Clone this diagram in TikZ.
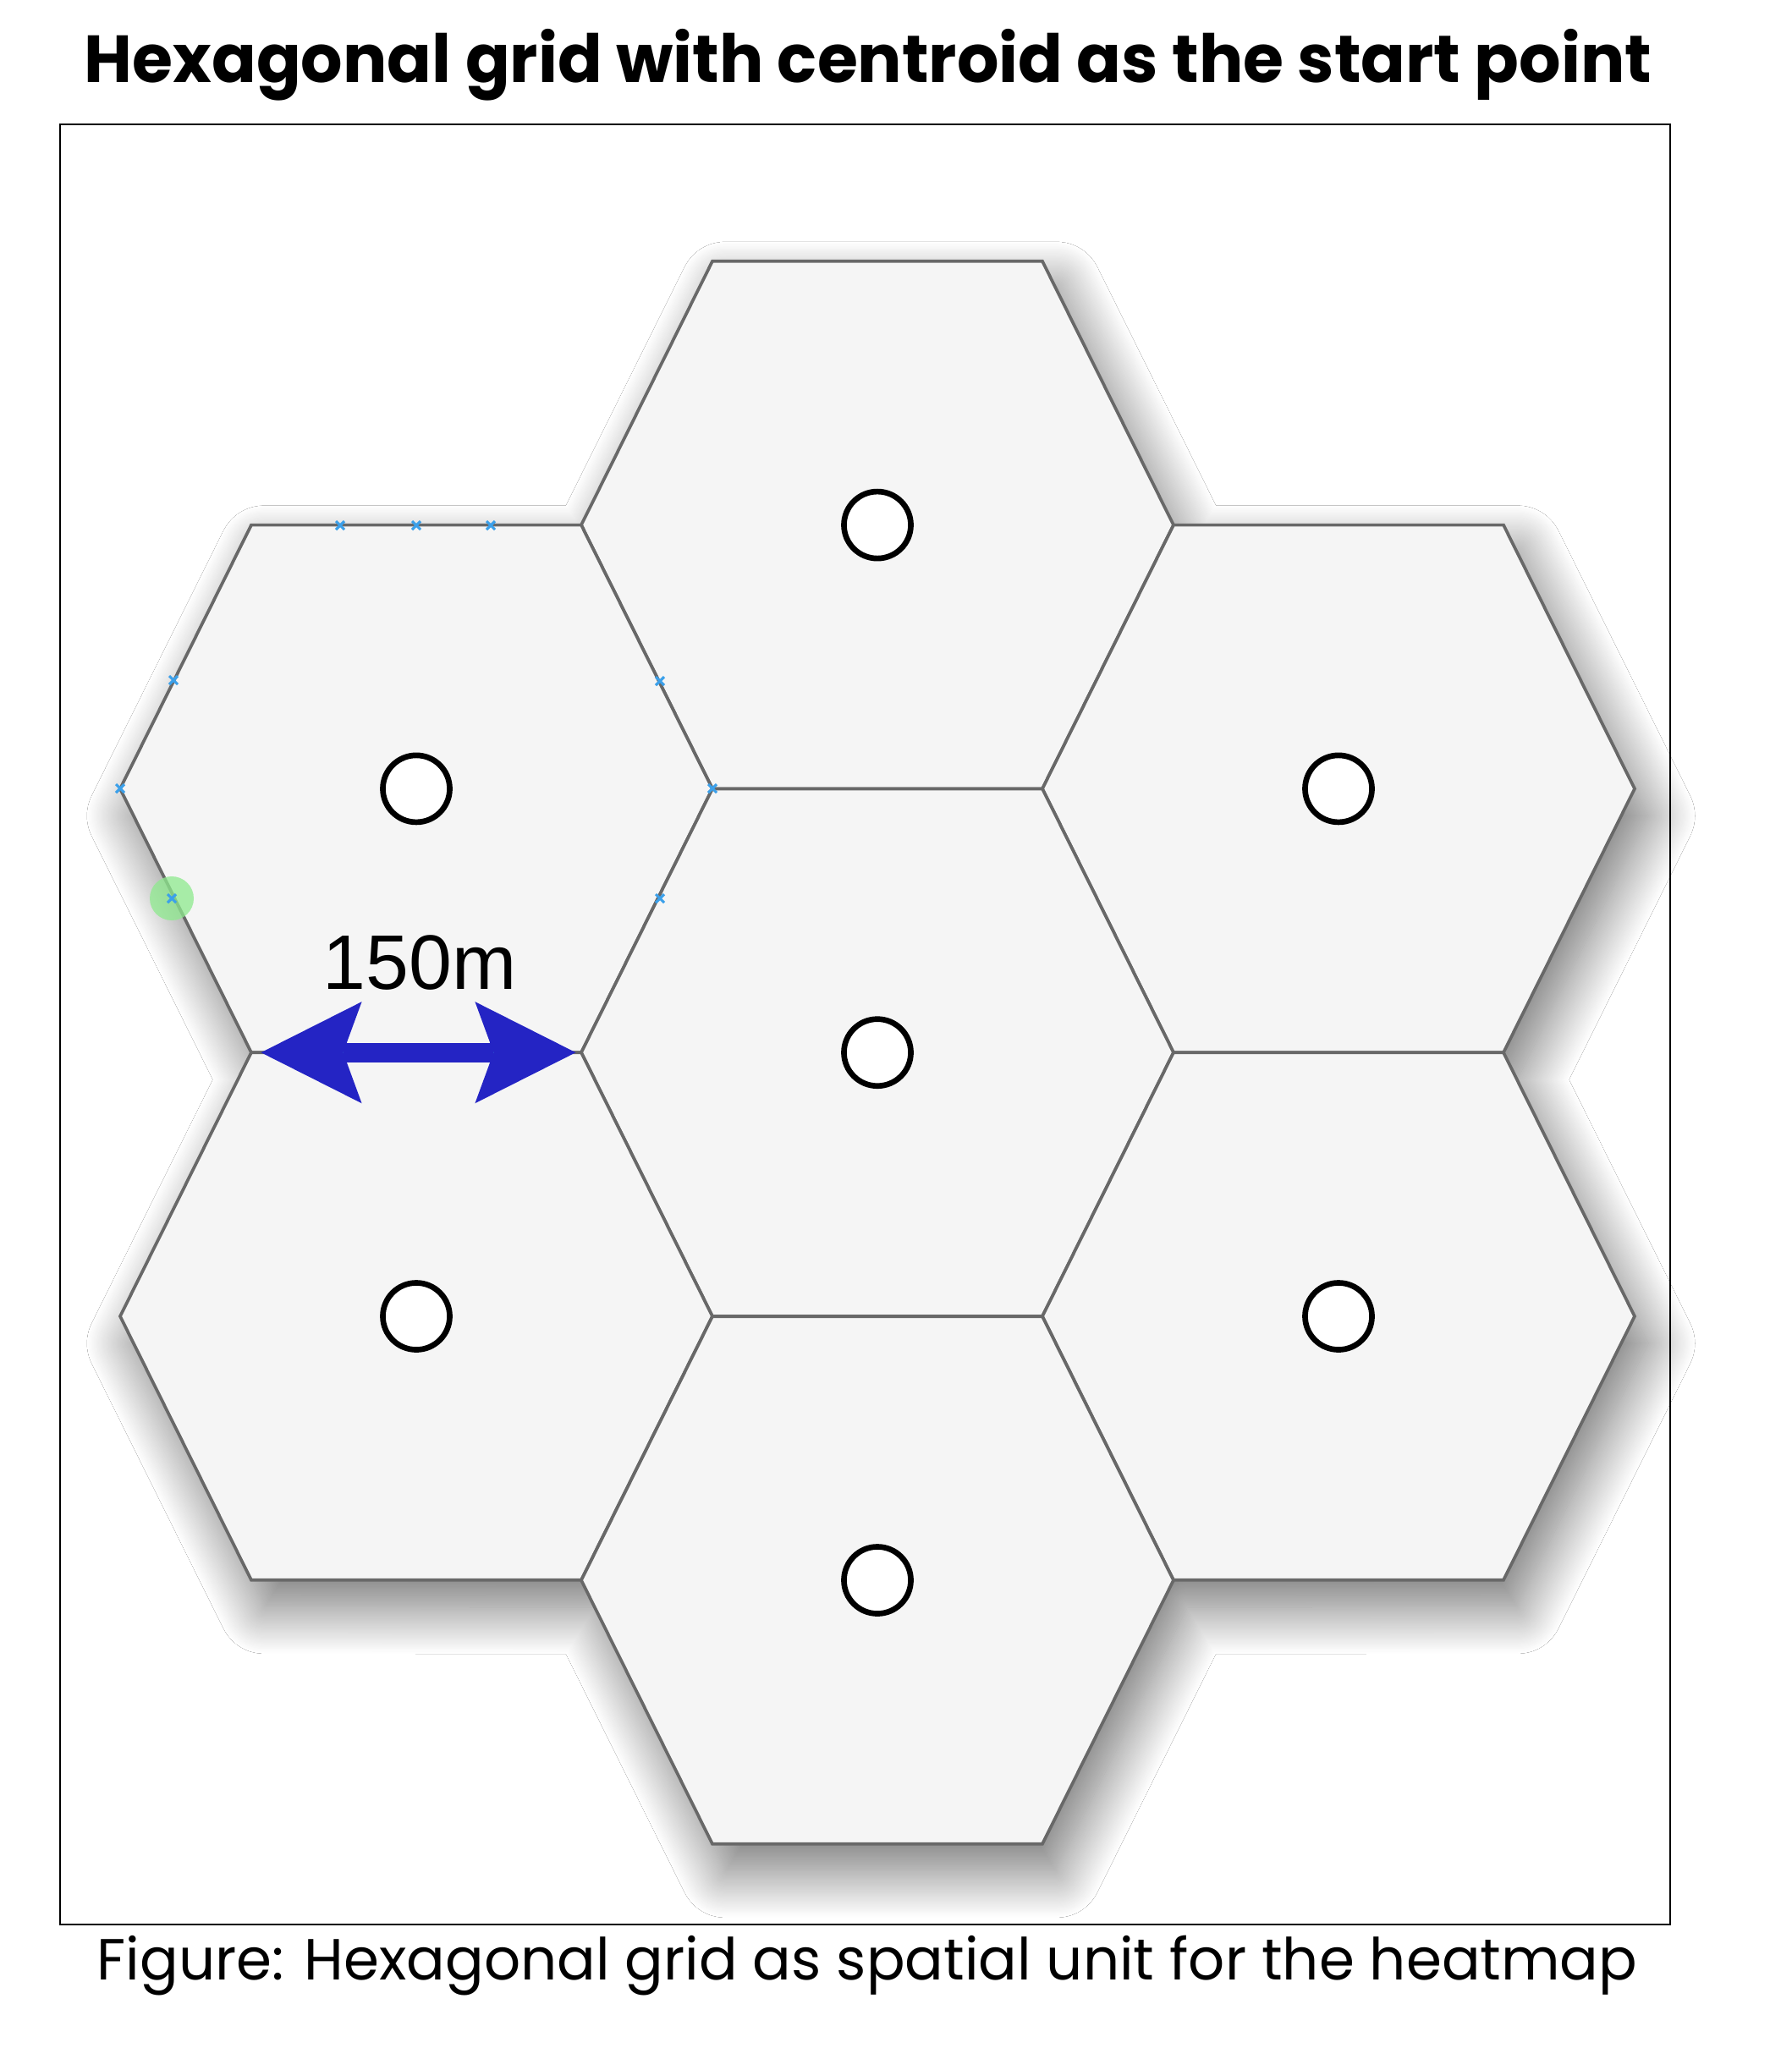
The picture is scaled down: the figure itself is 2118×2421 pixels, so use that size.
\documentclass[tikz,border=0pt]{standalone}
\usepackage{fontspec}
\usepackage{graphicx}
\newfontfamily\poppins{Poppins}
\newfontfamily\arialike{Liberation Sans}
\usetikzlibrary{arrows.meta,shadows.blur}
\definecolor{HexFill}{HTML}{F5F5F5}
\definecolor{HexLine}{HTML}{686868}
\definecolor{ArrowBlue}{HTML}{2424C4}
\definecolor{HandleBlue}{HTML}{3BA0EA}
\definecolor{DotGreen}{HTML}{8EEA8E}
\pgfdeclareradialshading{vignette}{\pgfpoint{0bp}{0bp}}{color(0bp)=(white); color(41bp)=(white); color(50bp)=(black!4); color(71bp)=(black!5)}

\tikzset{
  hexcell/.style={draw=HexLine, fill=HexFill, line width=1.05pt, line join=miter},
  hexshadow/.style={blur shadow={shadow xshift=0.16cm, shadow yshift=-0.32cm,
      shadow blur radius=0.55cm, shadow blur steps=50, shadow opacity=55}},
  centroid/.style={circle, draw=black, fill=white, line width=1.9pt,
      minimum size=0.79cm, inner sep=0pt},
  distarrow/.style={ArrowBlue, line width=0.23cm,
      {Stealth[length=1.19cm,width=1.2cm,inset=0.22cm,line width=0pt]}-{Stealth[length=1.19cm,width=1.2cm,inset=0.22cm,line width=0pt]},
      shorten <=0.115cm, shorten >=0.065cm},
  handle/.style={HandleBlue, line width=0.9pt},
}

\begin{document}
\begin{tikzpicture}[x=0.01cm,y=-0.01cm]
  \useasboundingbox (0,0) rectangle (2118,2421);
  \fill[white] (0,0) rectangle (2118,2421);

  % frame with a light vignette
  \shade[shading=vignette] (71,147) rectangle (1974,2275);

  % hexagon centres and corners
  \foreach \name/\cx/\cy in {n/1037/620.6, nw/492/932.4, ne/1582/932.4, c/1037/1244.2,
                             sw/492/1556, se/1582/1556, s/1037/1868}{
    \coordinate (\name) at (\cx,\cy);
    \coordinate (\name-l) at (\cx-350,\cy);
    \coordinate (\name-r) at (\cx+350,\cy);
    \coordinate (\name-tl) at (\cx-195,\cy-311.8);
    \coordinate (\name-tr) at (\cx+195,\cy-311.8);
    \coordinate (\name-bl) at (\cx-195,\cy+311.8);
    \coordinate (\name-br) at (\cx+195,\cy+311.8);
  }

  % shadow of the whole cluster
  \path[hexshadow] (n-tl) -- (n-tr) -- (n-r) -- (ne-tr) -- (ne-r) -- (ne-br) -- (se-r)
    -- (se-br) -- (s-r) -- (s-br) -- (s-bl) -- (s-l) -- (sw-bl) -- (sw-l) -- (nw-bl)
    -- (nw-l) -- (nw-tl) -- (n-l) -- cycle;

  \foreach \name in {n,nw,ne,c,sw,se,s}{
    \draw[hexcell] (\name-l) -- (\name-tl) -- (\name-tr) -- (\name-r) -- (\name-br) -- (\name-bl) -- cycle;
    \node[centroid] (\name-pt) at (\name) {};
  }

  % selection marks left in the screenshot
  \fill[DotGreen, opacity=0.75] (203,1062) circle (26);
  \foreach \hx/\hy in {402/621, 492/621, 580/621, 205/804, 142/932, 780/805,
                       842/932, 780/1062, 203/1062, 402/1247, 492/1247, 580/1247}
    \draw[handle] (\hx-5,\hy-5) -- (\hx+5,\hy+5) (\hx-5,\hy+5) -- (\hx+5,\hy-5);

  \draw[distarrow] (nw-bl) -- (nw-br);
  \node[anchor=base, inner sep=0pt, font=\arialike\fontsize{26pt}{30pt}\selectfont] (dist) at (496,1169) {150m};

  \draw[black, line width=0.8pt] (71,147) rectangle (1974,2275);

  \node[anchor=base, inner sep=0pt] (title) at (1026,97)
    {\resizebox{18.51cm}{\height}{\poppins\bfseries\fontsize{22.4pt}{26pt}\selectfont Hexagonal grid with centroid as the start point}};
  \node[anchor=base, inner sep=0pt] (caption) at (1025,2340)
    {\resizebox{18.19cm}{\height}{\poppins\fontsize{19.5pt}{23pt}\selectfont Figure: Hexagonal grid as spatial unit for the heatmap}};
\end{tikzpicture}
\end{document}
